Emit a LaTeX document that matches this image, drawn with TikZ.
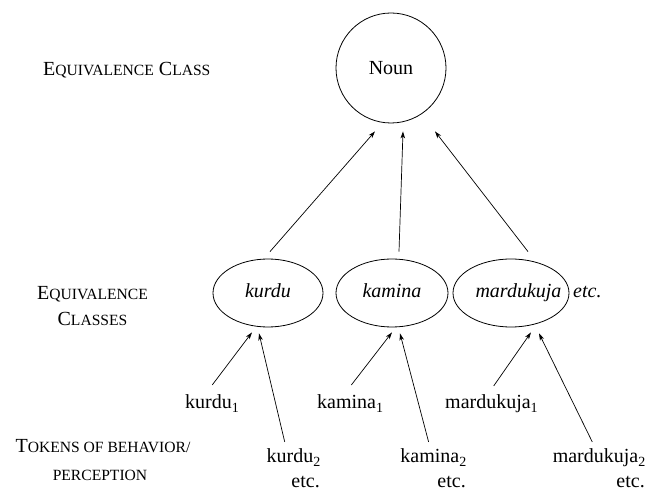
\documentclass[tikz,border=0pt]{standalone}
\usepackage{fontspec}
\setmainfont{Liberation Serif}
\usetikzlibrary{arrows.meta,shapes.geometric}
\newcommand\smc[1]{{\fontsize{15.6}{18}\selectfont #1}}
\begin{document}
\begin{tikzpicture}[x=1pt,y=-1pt,
  every node/.style={font=\fontsize{20}{24}\selectfont, inner sep=0pt},
  cls/.style={draw, ellipse, line width=0.8pt, minimum height=68pt, text height=14pt, text depth=4pt},
  arr/.style={line width=0.7pt, -{Stealth[length=7pt,width=4.5pt,inset=2pt]}}
]
\useasboundingbox (0,0) rectangle (649,489);
% left labels
\node[anchor=base west] (l1) at (43,76) {E\smc{QUIVALENCE} C\smc{LASS}};
\node[anchor=base] (l2a) at (92.5,300) {E\smc{QUIVALENCE}};
\node[anchor=base] (l2b) at (92.5,326) {C\smc{LASSES}};
\node[anchor=base] (l3a) at (103,453) {T\smc{OKENS OF BEHAVIOR/}};
\node[anchor=base] (l3b) at (100,481) {\smc{PERCEPTION}};
% top class
\node[draw, circle, minimum size=110pt, line width=0.8pt] (noun) at (391,68) {Noun};
% classes
\node[cls, minimum width=110pt] (ku) at (268,293) {\makebox[0pt]{\itshape kurdu}};
\node[cls, minimum width=112pt] (km) at (392,293) {\makebox[0pt]{\itshape kamina}};
\node[cls, minimum width=116pt] (ma) at (511,293) {\makebox[0pt]{\itshape\hspace*{15pt}mardukuja}};
\coordinate (ex) at (573,0);
\node[anchor=base west] (etc0) at (ma.base -| ex) {\itshape etc.};
% tokens
\node[anchor=base west] (k1) at (185,409) {kurdu\textsubscript{1}};
\node[anchor=base east] (k2) at (321,463) {kurdu\textsubscript{2}};
\node[anchor=base east] (k2e) at (320,488) {etc.};
\node[anchor=base west] (m1) at (317,409) {kamina\textsubscript{1}};
\node[anchor=base east] (m2) at (467,463) {kamina\textsubscript{2}};
\node[anchor=base east] (m2e) at (466,488) {etc.};
\node[anchor=base west] (d1) at (445,409) {mardukuja\textsubscript{1}};
\node[anchor=base east] (d2) at (646,463) {mardukuja\textsubscript{2}};
\node[anchor=base east] (d2e) at (645,488) {etc.};
% arrows to Noun
\draw[arr] ([xshift=2pt,yshift=7pt]ku.north) -- ([xshift=-16pt,yshift=-8pt]noun.south);
\draw[arr] ([xshift=7pt,yshift=7pt]km.north) -- ([xshift=12pt,yshift=-8pt]noun.south);
\draw[arr] ([xshift=17pt,yshift=7pt]ma.north) -- ([xshift=44pt,yshift=-8pt]noun.south);
% arrows from tokens
\draw[arr] ([yshift=10pt]k1.north) -- ([xshift=-16pt,yshift=-5pt]ku.south);
\draw[arr] ([xshift=-9pt,yshift=7pt]k2.north) -- ([xshift=-9pt,yshift=-6pt]ku.south);
\draw[arr] ([xshift=1pt,yshift=10pt]m1.north) -- ([xshift=0pt,yshift=-5pt]km.south);
\draw[arr] ([xshift=-5pt,yshift=7pt]m2.north) -- ([xshift=8pt,yshift=-6pt]km.south);
\draw[arr] ([xshift=2pt,yshift=9pt]d1.north) -- ([xshift=20pt,yshift=-5pt]ma.south);
\draw[arr] ([xshift=-7pt,yshift=7pt]d2.north) -- ([xshift=28pt,yshift=-6pt]ma.south);
\end{tikzpicture}
\end{document}
